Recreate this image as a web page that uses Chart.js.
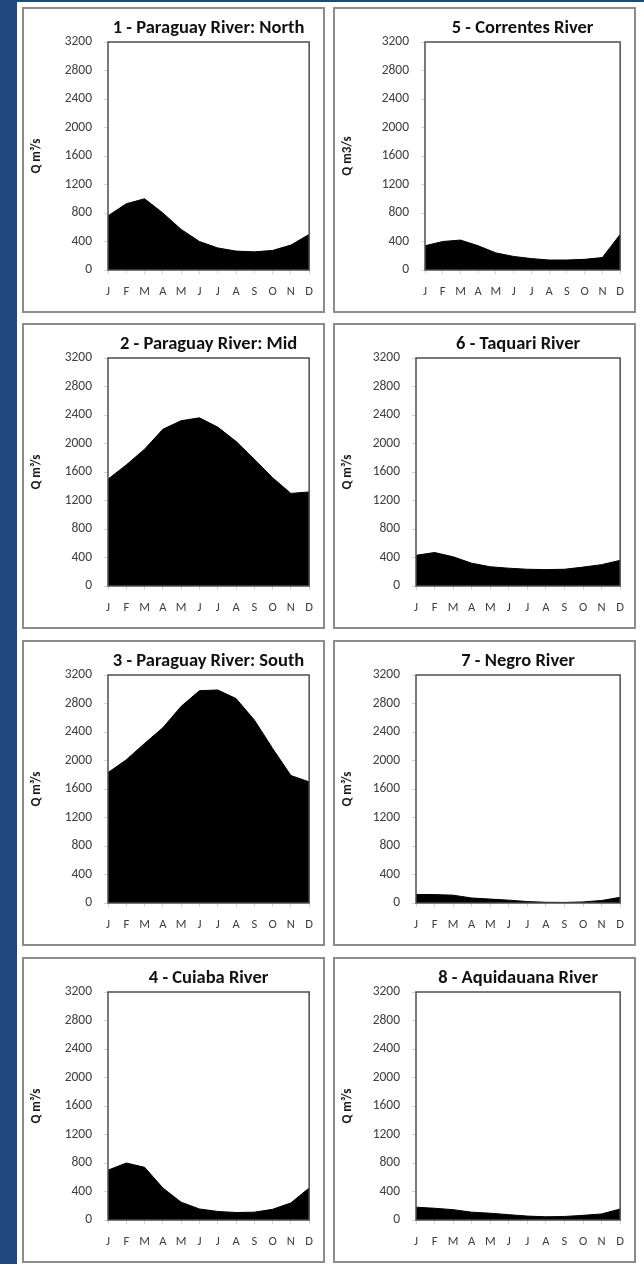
<!DOCTYPE html>
<html>
<head>
<meta charset="utf-8">
<script src="https://cdn.jsdelivr.net/npm/chart.js@4.4.1/dist/chart.umd.min.js"></script>
<style>
  html, body { margin: 0; padding: 0; }
  body { width: 644px; height: 1264px; background: #1f497d; position: relative; overflow: hidden; }
  #sheet { position: absolute; left: 17px; top: 2px; width: 627px; height: 1262px; background: #ffffff; }
  .panel { position: absolute; box-sizing: border-box; width: 303px; height: 306px;
           border: 2px solid #8c8c8c; background: #ffffff; }
  .panel canvas { display: block; }
</style>
</head>
<body>
<div id="sheet"></div>
<script>
// Month initials along the x axis
const months = ['J', 'F', 'M', 'A', 'M', 'J', 'J', 'A', 'S', 'O', 'N', 'D'];
// Discharge axis ticks (m³/s)
const dischargeTicks = [0, 400, 800, 1200, 1600, 2000, 2400, 2800, 3200];

// Mean monthly discharge, m³/s
const paraguayNorth = [760, 930, 1000, 800, 570, 400, 310, 265, 255, 275, 350, 500];
const paraguayMid   = [1500, 1700, 1920, 2200, 2320, 2360, 2230, 2030, 1780, 1520, 1300, 1320];
const paraguaySouth = [1830, 2010, 2240, 2460, 2760, 2980, 2990, 2870, 2570, 2170, 1790, 1700];
const cuiaba        = [700, 800, 740, 450, 250, 155, 120, 105, 110, 150, 240, 450];
const correntes     = [340, 400, 420, 340, 240, 190, 160, 140, 140, 150, 175, 500];
const taquari       = [430, 470, 410, 320, 270, 250, 235, 230, 235, 265, 300, 360];
const negro         = [120, 118, 110, 70, 55, 40, 20, 10, 8, 15, 35, 80];
const aquidauana    = [180, 165, 145, 110, 95, 75, 55, 45, 50, 65, 85, 155];

const panelTitles = [
  '1 - Paraguay River: North', '2 - Paraguay River: Mid', '3 - Paraguay River: South', '4 - Cuiaba River',
  '5 - Correntes River', '6 - Taquari River', '7 - Negro River', '8 - Aquidauana River'
];
const axisTitles = ['Q m³/s', 'Q m³/s', 'Q m³/s', 'Q m³/s', 'Q m3/s', 'Q m³/s', 'Q m³/s', 'Q m³/s'];
const seriesList = [paraguayNorth, paraguayMid, paraguaySouth, cuiaba, correntes, taquari, negro, aquidauana];

// Grid of panels: two columns, four rows
const colLeft = [22, 333];
const rowTop = [7, 323, 640, 957];
const FONT = 'Carlito, Lato, "Liberation Sans", sans-serif';
Chart.defaults.font.family = FONT;

// Dark frame around the plotting area
const plotFrame = {
  id: 'plotFrame',
  afterDatasetsDraw(chart) {
    const a = chart.chartArea, ctx = chart.ctx;
    ctx.save();
    ctx.strokeStyle = '#4d4d4d';
    ctx.lineWidth = 1.5;
    ctx.strokeRect(a.left, a.top, a.right - a.left, a.bottom - a.top);
    ctx.restore();
  }
};

seriesList.forEach((values, i) => {
  const col = i < 4 ? 0 : 1;
  const row = i % 4;
  const panel = document.createElement('div');
  panel.className = 'panel';
  panel.style.left = colLeft[col] + 'px';
  panel.style.top = rowTop[row] + 'px';
  document.body.appendChild(panel);
  const canvas = document.createElement('canvas');
  canvas.width = 299;
  canvas.height = 302;
  panel.appendChild(canvas);

  const yWidth = col === 0 ? 84 : (i === 4 ? 90 : 81);

  new Chart(canvas, {
    type: 'line',
    data: {
      labels: months,
      datasets: [{
        data: values,
        fill: 'origin',
        backgroundColor: '#000000',
        borderColor: '#000000',
        borderWidth: 1,
        pointRadius: 0,
        tension: 0
      }]
    },
    options: {
      responsive: false,
      animation: false,
      events: [],
      layout: { padding: { left: 0, right: 12, top: 0, bottom: 0 } },
      plugins: {
        legend: { display: false },
        tooltip: { enabled: false },
        title: {
          display: true,
          text: panelTitles[i],
          fullSize: false,
          color: '#111111',
          font: { family: FONT, size: 18.5, weight: 'bold' },
          padding: { top: 7.9, bottom: 2.9 }
        }
      },
      scales: {
        x: {
          offset: false,
          grid: { display: true, drawOnChartArea: false, drawTicks: true, tickLength: 4, color: '#d4d4d4' },
          border: { display: false },
          ticks: { color: '#404040', font: { size: 12.5 }, padding: 10, maxRotation: 0, autoSkip: false },
          afterFit(scale) { scale.height = 41; }
        },
        y: {
          min: 0,
          max: 3200,
          afterBuildTicks(scale) { scale.ticks = dischargeTicks.map(v => ({ value: v })); },
          grid: { display: true, drawOnChartArea: false, drawTicks: true, tickLength: 4, color: '#d4d4d4' },
          border: { display: false },
          ticks: { color: '#404040', font: { size: 13.5 }, padding: 12, callback: v => String(v) },
          title: {
            display: true,
            text: axisTitles[i],
            color: '#1a1a1a',
            font: { family: FONT, size: 13, weight: 'bold' },
            padding: { top: 5, bottom: 0 }
          },
          afterFit(scale) { scale.width = yWidth; }
        }
      }
    },
    plugins: [plotFrame]
  });
});
</script>
</body>
</html>
